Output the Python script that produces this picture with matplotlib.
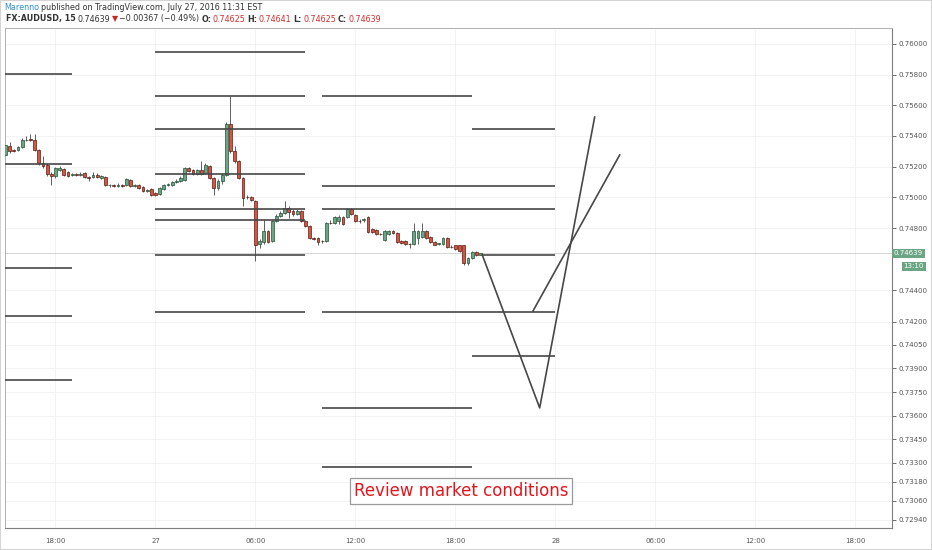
import numpy as np
import matplotlib.pyplot as plt
from matplotlib.patches import Rectangle
from matplotlib.transforms import IdentityTransform, blended_transform_factory
from matplotlib.ticker import FixedLocator, FixedFormatter, NullLocator

# AUDUSD 15 min candles, prices in 1e-5 units, first bar 15:00 on the 26th
opens = [75274, 75331, 75306, 75306, 75325, 75370, 75376, 75370, 75306, 75222,
         75209, 75151, 75138, 75177, 75183, 75164, 75145, 75151, 75145, 75158,
         75132, 75132, 75145, 75126, 75132, 75081, 75081, 75074, 75081, 75081,
         75113, 75074, 75081, 75068, 75042, 75055, 75029, 75023, 75055, 75081,
         75081, 75100, 75106, 75113, 75190, 75177, 75151, 75177, 75158, 75203,
         75126, 75061, 75106, 75145, 75479, 75299, 75235, 75126, 75004, 75004,
         74978, 74701, 74714, 74785, 74721, 74849, 74881, 74901, 74933, 74914,
         74894, 74914, 74849, 74817, 74740, 74740, 74721, 74721, 74836, 74836,
         74849, 74875, 74875, 74926, 74888, 74849, 74856, 74875, 74798, 74791,
         74766, 74727, 74766, 74785, 74772, 74721, 74721, 74701, 74701, 74740,
         74746, 74785, 74746, 74714, 74701, 74701, 74740, 74682, 74689, 74689,
         74689, 74573, 74611, 74650, 74625]
highs = [75351, 75357, 75312, 75331, 75383, 75396, 75409, 75409, 75312, 75267,
         75222, 75164, 75196, 75203, 75190, 75171, 75158, 75158, 75164, 75164,
         75138, 75164, 75158, 75145, 75138, 75087, 75087, 75093, 75087, 75126,
         75119, 75087, 75087, 75074, 75055, 75061, 75036, 75068, 75087, 75093,
         75106, 75119, 75138, 75196, 75196, 75183, 75183, 75235, 75222, 75209,
         75132, 75119, 75158, 75492, 75659, 75331, 75241, 75132, 75016, 75010,
         74984, 74734, 74856, 74791, 74856, 74894, 74914, 74978, 74946, 74926,
         74926, 74920, 74856, 74824, 74746, 74746, 74727, 74843, 74856, 74881,
         74888, 74881, 74933, 74933, 74894, 74862, 74868, 74881, 74804, 74798,
         74772, 74791, 74791, 74791, 74779, 74727, 74727, 74708, 74836, 74791,
         74836, 74791, 74753, 74721, 74708, 74746, 74746, 74689, 74695, 74695,
         74695, 74618, 74656, 74656, 74641]
lows = [75261, 75287, 75293, 75299, 75319, 75363, 75363, 75299, 75209, 75190,
        75138, 75081, 75126, 75171, 75138, 75132, 75138, 75138, 75138, 75126,
        75106, 75126, 75126, 75119, 75074, 75068, 75068, 75068, 75068, 75074,
        75068, 75068, 75055, 75036, 75036, 75010, 75010, 75016, 75049, 75074,
        75074, 75093, 75100, 75106, 75164, 75145, 75145, 75145, 75151, 75119,
        75016, 75049, 75087, 75138, 75287, 75222, 75119, 74946, 74991, 74978,
        74592, 74676, 74701, 74708, 74714, 74843, 74875, 74894, 74868, 74881,
        74888, 74843, 74811, 74734, 74727, 74689, 74708, 74714, 74830, 74830,
        74830, 74824, 74868, 74888, 74843, 74836, 74843, 74772, 74772, 74759,
        74759, 74721, 74759, 74766, 74708, 74701, 74695, 74676, 74695, 74701,
        74740, 74734, 74708, 74689, 74695, 74695, 74676, 74676, 74663, 74650,
        74566, 74566, 74605, 74624, 74625]
closes = [75338, 75299, 75299, 75325, 75370, 75372, 75370, 75306, 75222, 75203,
          75151, 75138, 75190, 75190, 75145, 75138, 75151, 75145, 75151, 75132,
          75126, 75145, 75132, 75138, 75081, 75083, 75074, 75081, 75074, 75119,
          75074, 75081, 75061, 75042, 75049, 75016, 75016, 75061, 75081, 75087,
          75100, 75106, 75126, 75190, 75171, 75151, 75177, 75151, 75209, 75126,
          75061, 75106, 75145, 75479, 75299, 75235, 75126, 74997, 75002, 74984,
          74695, 74721, 74785, 74714, 74849, 74881, 74901, 74933, 74907, 74894,
          74914, 74849, 74817, 74740, 74734, 74714, 74719, 74836, 74834, 74875,
          74875, 74830, 74926, 74894, 74849, 74847, 74858, 74779, 74779, 74766,
          74764, 74785, 74785, 74772, 74714, 74708, 74701, 74699, 74785, 74785,
          74785, 74740, 74714, 74695, 74703, 74740, 74682, 74680, 74669, 74656,
          74573, 74611, 74650, 74625, 74639]

# drawn levels: (start hour, end hour, price), hours counted from 00:00 on the 26th
levels = [
    (15.0, 19.0, 0.75803), (15.0, 19.0, 0.75217), (15.0, 19.0, 0.74544),
    (15.0, 19.0, 0.74236), (15.0, 19.0, 0.73827),
    (24.0, 33.0, 0.75948), (24.0, 33.0, 0.75659), (24.0, 33.0, 0.75444),
    (24.0, 33.0, 0.75152), (24.0, 33.0, 0.74925), (24.0, 33.0, 0.74854),
    (24.0, 33.0, 0.74630), (24.0, 33.0, 0.74261),
    (34.0, 43.0, 0.75659), (34.0, 43.0, 0.75074), (34.0, 43.0, 0.74925),
    (34.0, 43.0, 0.74261), (34.0, 43.0, 0.73649), (34.0, 43.0, 0.73275),
    (43.0, 48.0, 0.75444), (43.0, 48.0, 0.75074), (43.0, 48.0, 0.74925),
    (43.6, 48.0, 0.74630), (43.0, 48.0, 0.74261), (43.0, 48.0, 0.73980),
]
path_a_t = [43.6, 47.05, 50.35]
path_a_p = [0.74630, 0.73649, 0.75522]
path_b_t = [46.65, 51.85]
path_b_p = [0.74268, 0.75275]

ytick_vals = [0.76000, 0.75800, 0.75600, 0.75400, 0.75200, 0.75000, 0.74800,
              0.74400, 0.74200, 0.74050, 0.73900, 0.73750, 0.73600, 0.73450,
              0.73300, 0.73180, 0.73060, 0.72940]
xtick_vals = [18, 24, 30, 36, 42, 48, 54, 60, 66]
xtick_labels = ["18:00", "27", "06:00", "12:00", "18:00", "28", "06:00", "12:00", "18:00"]
last_price = 0.74639

o = np.array(opens) / 1e5
h = np.array(highs) / 1e5
l = np.array(lows) / 1e5
c = np.array(closes) / 1e5
t = 15 + 0.25 * np.arange(len(o))
up = c >= o

fig = plt.figure(figsize=(9.32, 5.5), dpi=100)
ax = fig.add_axes([5 / 932, 22 / 550, 887 / 932, 500 / 550])

ax.vlines(t, l, h, color="#5f5f5f", lw=0.7, zorder=2)
body_bot = np.minimum(o, c)
body_h = np.maximum(np.abs(c - o), 0.000005)
ax.bar(t[up], body_h[up], bottom=body_bot[up], width=0.17,
       color="#6ba583", edgecolor="#225437", lw=0.5, zorder=3)
ax.bar(t[~up], body_h[~up], bottom=body_bot[~up], width=0.17,
       color="#d75442", edgecolor="#5b1a13", lw=0.5, zorder=3)

for t0, t1, p in levels:
    ax.plot([t0, t1], [p, p], color="#474747", lw=1.2, zorder=4, solid_capstyle="butt")
ax.plot(path_a_t, path_a_p, color="#474747", lw=1.2, zorder=4)
ax.plot(path_b_t, path_b_p, color="#474747", lw=1.2, zorder=4)

ax.axhline(last_price, color="#cfcfcf", lw=0.6, zorder=1)

ax.text(42.33, 0.73123, "Review market conditions", color="#e3161c", fontsize=12,
        ha="center", va="center", zorder=5,
        bbox=dict(boxstyle="square,pad=0.25", fc="white", ec="#9a9a9a", lw=0.9))

ax.set_yscale("log")
ax.set_ylim(0.72889, 0.76105)
ax.set_xlim(14.97, 68.19)
ax.yaxis.tick_right()
ax.yaxis.set_major_locator(FixedLocator(ytick_vals))
ax.yaxis.set_major_formatter(FixedFormatter([f"{v:.5f}" for v in ytick_vals]))
ax.yaxis.set_minor_locator(NullLocator())
ax.set_xticks(xtick_vals)
ax.set_xticklabels(xtick_labels)
ax.tick_params(axis="y", labelsize=5, colors="#555555", length=3, width=0.6, pad=1.5)
ax.tick_params(axis="x", labelsize=5, colors="#555555", length=0, pad=7)
ax.grid(color="#f1f1f1", lw=0.6, zorder=0)
ax.set_axisbelow(True)
for side in ["left", "top"]:
    ax.spines[side].set_color("#b0b0b0")
    ax.spines[side].set_linewidth(0.7)
for side in ["right", "bottom"]:
    ax.spines[side].set_color("#7d7d7d")
    ax.spines[side].set_linewidth(0.8)

# price tags on the price scale
tr = blended_transform_factory(ax.transAxes, ax.transData)
ax.text(1.002, last_price, "0.74639", transform=tr, fontsize=5, color="white",
        ha="left", va="center", zorder=6,
        bbox=dict(boxstyle="square,pad=0.25", fc="#6ba583", ec="none"))
ax.text(1.013, 0.74555, "13:10", transform=tr, fontsize=5, color="white",
        ha="left", va="center", zorder=6,
        bbox=dict(boxstyle="square,pad=0.25", fc="#6ba583", ec="none"))

# header lines
renderer = fig.canvas.get_renderer()


def header_line(pieces, x, y):
    for s, col, bold in pieces:
        txt = fig.text(x, y, s, transform=IdentityTransform(), fontsize=5.8, color=col,
                       fontweight="bold" if bold else "normal", ha="left", va="center")
        x += txt.get_window_extent(renderer).width + 1.6


dark = "#333333"
red = "#d32f2f"
header_line([("Marenno", "#2f8fd0", False),
             ("published on TradingView.com, July 27, 2016 11:31 EST", dark, False)], 4, 543)
header_line([("FX:AUDUSD, 15", dark, True), ("0.74639", dark, False),
             ("\u25bc", "#c62828", False), ("\u22120.00367 (\u22120.49%)", dark, False),
             ("O:", dark, True), ("0.74625", red, False),
             ("H:", dark, True), ("0.74641", red, False),
             ("L:", dark, True), ("0.74625", red, False),
             ("C:", dark, True), ("0.74639", red, False)], 6, 531)

fig.patches.append(Rectangle((0, 0), 1, 1, transform=fig.transFigure, fill=False,
                             ec="#d4d4d4", lw=1.5))

fig.savefig("out.png", dpi=100)
